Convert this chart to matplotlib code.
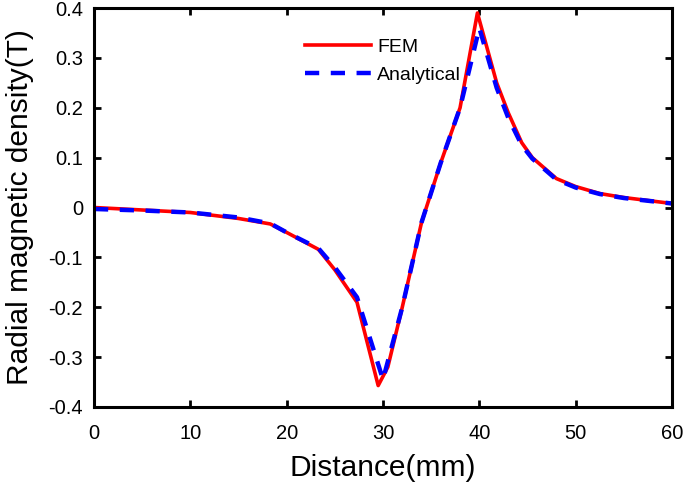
import matplotlib
matplotlib.use('Agg')
import matplotlib.pyplot as plt

plt.rcParams['font.family'] = ['Liberation Sans', 'DejaVu Sans']

# FEM result
fem_x = [0, 5, 10, 15, 18.3, 20, 23.3, 25, 27.3, 29.5, 30.5, 32, 34, 36, 38, 39.8,
         41.8, 43, 44.4, 45.5, 48, 50, 52.5, 55, 60]
fem_y = [0, -0.005, -0.01, -0.022, -0.033, -0.05, -0.084, -0.125, -0.19, -0.357, -0.32,
         -0.2, -0.03, 0.09, 0.2, 0.39, 0.25, 0.19, 0.13, 0.1, 0.058, 0.042, 0.028, 0.02, 0.008]

# analytical result
ana_x = [0, 5, 10, 15, 18.3, 20, 23.3, 25, 27.3, 30, 32, 34, 36, 38, 40,
         41.8, 43, 44.4, 45.5, 48, 50, 52.5, 55, 60]
ana_y = [-0.003, -0.006, -0.01, -0.02, -0.032, -0.05, -0.082, -0.12, -0.18, -0.345,
         -0.2, -0.03, 0.09, 0.2, 0.36, 0.24, 0.18, 0.125, 0.098, 0.056, 0.04, 0.027, 0.019, 0.008]

fig = plt.figure(figsize=(6.85, 4.88), dpi=100)
ax = fig.add_axes([94/685, 1-407/488, (672-94)/685, (407-8)/488])

ax.plot(fem_x, fem_y, color='red', lw=2.6, label='FEM')
ax.plot(ana_x, ana_y, color='blue', lw=3.2, ls=(0, (3.2, 2.6)), label='Analytical')

ax.set_xlim(0, 60)
ax.set_ylim(-0.4, 0.4)
ax.set_xticks(range(0, 61, 10))
ax.set_yticks([-0.4, -0.3, -0.2, -0.1, 0, 0.1, 0.2, 0.3, 0.4])
ax.set_yticklabels(['-0.4', '-0.3', '-0.2', '-0.1', '0', '0.1', '0.2', '0.3', '0.4'])
ax.tick_params(direction='in', top=True, right=True, labelsize=14.5, width=2, length=5)
ax.tick_params(axis='x', pad=12)
ax.tick_params(axis='y', pad=8)
for s in ax.spines.values():
    s.set_linewidth(2.2)

ax.set_xlabel('Distance(mm)', fontsize=21.5, labelpad=8)
ax.set_ylabel('Radial magnetic density(T)', fontsize=21.5, labelpad=10)

ax.legend(loc='upper left', bbox_to_anchor=(0.365, 0.925), frameon=False, fontsize=14,
          handlelength=3.4, handletextpad=0.3, labelspacing=0.55,
          borderpad=0, borderaxespad=0)

plt.savefig('out.png')
